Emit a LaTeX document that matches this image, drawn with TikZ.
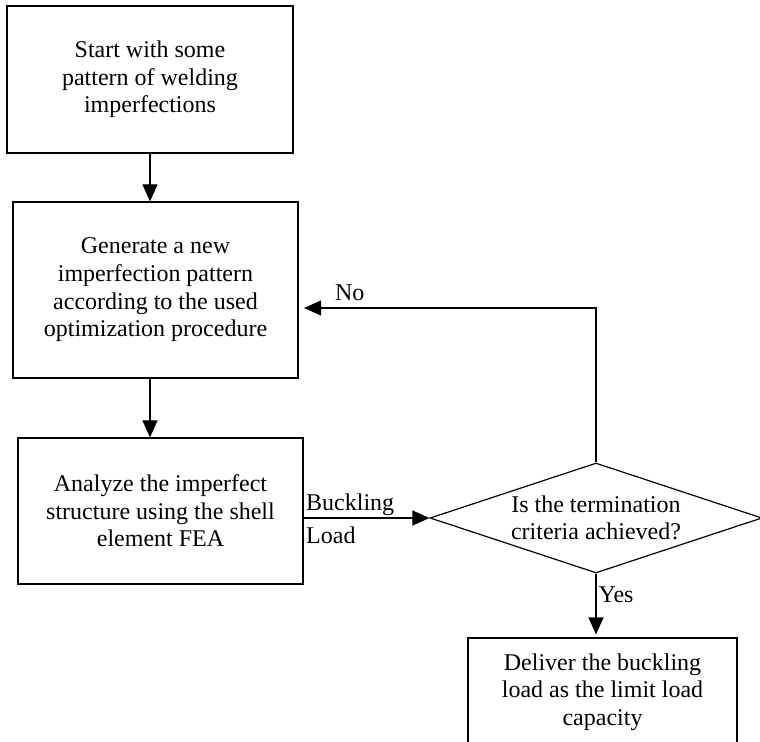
\documentclass[tikz,border=0pt]{standalone}
\usepackage{fontspec}
\setmainfont{Liberation Serif}
\usetikzlibrary{arrows.meta,shapes.geometric}

\begin{document}
\begin{tikzpicture}
[->,>={Triangle[length=8.5pt,width=7.5pt]},x=0.5pt,y=-0.5pt,line width=0.6pt,
 font=\fontsize{12}{13.8}\selectfont]
\tikzstyle{block}=[draw=black,rectangle,align=center,inner sep=0pt]
\tikzstyle{check}=[draw=black,diamond,aspect=3,align=center,inner sep=0pt]
\useasboundingbox (0,0) rectangle (760,742);
\node[block,minimum width=143pt,minimum height=73.5pt] (start) at (150,79.5)
  {Start with some\\pattern of welding\\imperfections};
\node[block,minimum width=142.5pt,minimum height=88pt] (gen) at (155.5,290)
  {Generate a new\\imperfection pattern\\according to the used\\optimization procedure};
\node[block,minimum width=142.5pt,minimum height=73pt] (ana) at (160.5,511)
  {Analyze the imperfect\\structure using the shell\\element FEA};
\node[check,minimum width=166pt,minimum height=55pt] (crit) at (596,518)
  {Is the termination\\criteria achieved?};
\node[block,minimum width=134.5pt,minimum height=54pt] (deliver) at (602.5,692)
  {Deliver the buckling\\load as the limit load\\capacity};

\path
(start) edge (start |- gen.north)
(gen.south -| start) edge (ana.north -| start)
(ana.east |- crit.west) edge
  node[pos=0,anchor=south west,inner xsep=1pt,inner ysep=1pt] {Buckling}
  node[pos=0,anchor=north west,inner xsep=1pt,inner ysep=4pt] {Load} (crit.west)
(crit.north) edge [shorten >=2.75pt,to path={|- (\tikztotarget) \tikztonodes}]
  node[pos=0.914,anchor=south,inner ysep=3.5pt] {No} ([yshift=-9pt]gen.east)
(crit.south) edge [shorten >=1.5pt]
  node[pos=0.33,anchor=west,inner xsep=1pt] {Yes} (crit.south |- deliver.north)
;
\end{tikzpicture}
\end{document}
